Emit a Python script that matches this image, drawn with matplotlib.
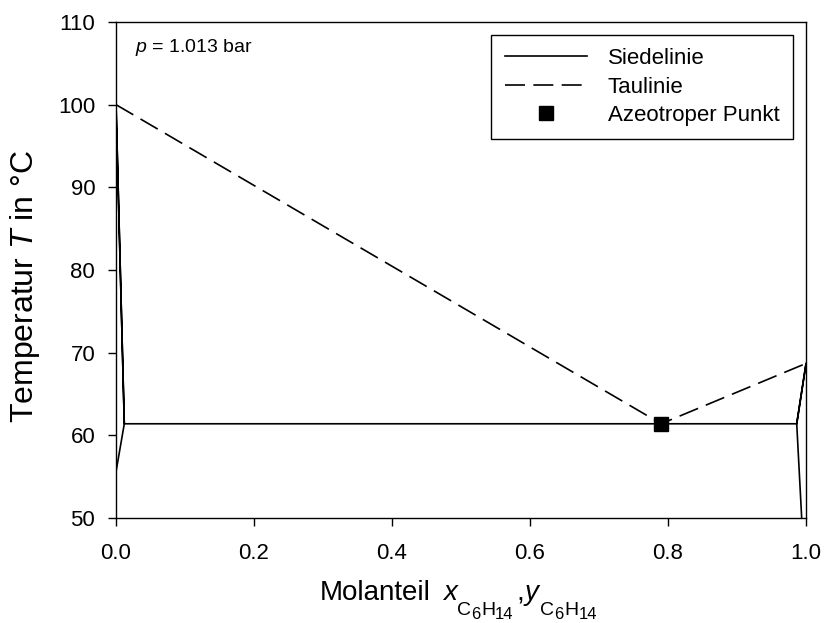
import matplotlib
matplotlib.use("Agg")
import matplotlib.pyplot as plt

plt.rcParams['font.family'] = ['Liberation Sans', 'DejaVu Sans']
plt.rcParams['mathtext.fontset'] = 'custom'
plt.rcParams['mathtext.rm'] = 'Liberation Sans'
plt.rcParams['mathtext.it'] = 'Liberation Sans:italic'

# Siedelinie (solid): left branch, three-phase line, right branch
siede_x = [0.0, 0.0, 0.012, 0.0, 0.012, 0.9865, 1.0, 0.9865, 0.9937]
siede_y = [50.0, 55.6, 61.4, 100.0, 61.4, 61.4, 68.7, 61.4, 50.0]

# Taulinie (dashed)
tau_x = [0.0, 0.79, 1.0]
tau_y = [100.0, 61.4, 68.7]

# azeotroper Punkt
aze_x = [0.79]
aze_y = [61.4]

xticks = [0.0, 0.2, 0.4, 0.6, 0.8, 1.0]
yticks = [50, 60, 70, 80, 90, 100, 110]

fig = plt.figure(figsize=(8.24, 6.23), dpi=100)
ax = fig.add_axes([0.1408, 0.1685, 0.8374, 0.7962])

ax.plot(siede_x, siede_y, color='black', lw=1.2, label='Siedelinie')
ax.plot(tau_x, tau_y, color='black', lw=1.2, dashes=(12, 5), label='Taulinie')
ax.plot(aze_x, aze_y, 's', color='black', markersize=10, linestyle='none',
        label='Azeotroper Punkt', zorder=5)

ax.set_xlim(0, 1)
ax.set_ylim(50, 110)
ax.set_xticks(xticks)
ax.set_yticks(yticks)
ax.set_xticklabels(['%.1f' % v for v in xticks])
ax.tick_params(direction='out', length=6, width=1, labelsize=16)
ax.tick_params(axis='y', pad=9)
ax.tick_params(axis='x', pad=12)
for s in ax.spines.values():
    s.set_linewidth(1)

ax.set_ylabel('Temperatur $T$ in °C', fontsize=23)
ax.yaxis.set_label_coords(-0.1077, 0.467)

# x label built piece by piece so the nested subscripts keep their size
base = 23  # baseline, figure pixels
lbl = fig.text(320 / 824, base / 623, 'Molanteil', fontsize=20, va='baseline')
pieces = [('x', 20, 'italic', 12, base),
          ('C', 14, 'normal', 0, base - 15),
          ('6', 12, 'normal', 0, base - 19),
          ('H', 14, 'normal', 1, base - 15),
          ('14', 12, 'normal', 0, base - 19),
          (',', 20, 'normal', 3, base),
          ('y', 20, 'italic', 0, base),
          ('C', 14, 'normal', 2, base - 15),
          ('6', 12, 'normal', 0, base - 19),
          ('H', 14, 'normal', 1, base - 15),
          ('14', 12, 'normal', 0, base - 19)]
prev = lbl
for txt, fs, st, dx, yb in pieces:
    prev = ax.annotate(txt, xy=(1, yb), xycoords=(prev, 'figure pixels'),
                       xytext=(dx, 0), textcoords='offset pixels',
                       fontsize=fs, style=st, ha='left', va='baseline',
                       annotation_clip=False)

ax.text(0.0275, 0.9395, '$p$ = 1.013 bar', transform=ax.transAxes,
        fontsize=14, va='baseline', ha='left')

leg = ax.legend(loc='upper right', bbox_to_anchor=(0.981, 0.974),
                borderaxespad=0, fontsize=16, handlelength=3.7,
                fancybox=False, edgecolor='black', framealpha=1,
                labelspacing=0.33, borderpad=0.6, handletextpad=0.95)
leg.get_frame().set_linewidth(1)

fig.savefig('out.png', dpi=100)
